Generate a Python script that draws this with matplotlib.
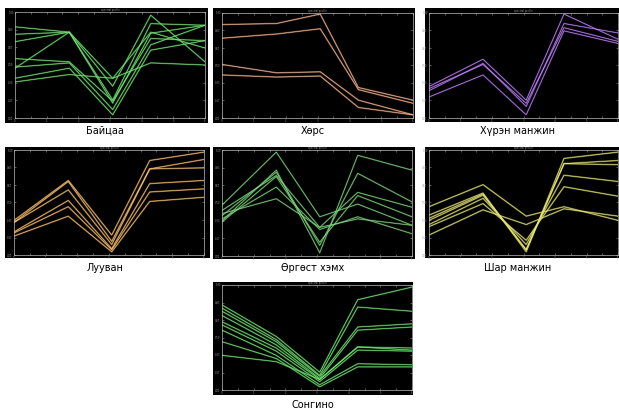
import numpy as np
import matplotlib.pyplot as plt
from matplotlib.colors import to_rgb

# band centres (nm)
bands = [450, 550, 630, 700, 800]

# spectra, as a fraction of each panel's y range
baitsaa = [
    [0.86, 0.81, 0.375, 0.81, 0.66],
    [0.79, 0.81, 0.30, 0.97, 0.53],
    [0.72, 0.81, 0.17, 0.89, 0.875],
    [0.47, 0.81, 0.14, 0.80, 0.875],
    [0.56, 0.53, 0.16, 0.75, 0.73],
    [0.48, 0.52, 0.08, 0.69, 0.875],
    [0.375, 0.47, 0.03, 0.64, 0.73],
    [0.34, 0.41, 0.375, 0.52, 0.50],
]
khors = [
    [0.89, 0.90, 0.99, 0.29, 0.17],
    [0.76, 0.80, 0.85, 0.27, 0.14],
    [0.51, 0.43, 0.44, 0.17, 0.03],
    [0.41, 0.39, 0.40, 0.10, 0.03],
]
khuren_manjin = [
    [0.30, 0.56, 0.17, 0.99, 0.75],
    [0.26, 0.52, 0.11, 0.90, 0.81],
    [0.28, 0.51, 0.14, 0.86, 0.73],
    [0.20, 0.41, 0.03, 0.83, 0.71],
]
luuvan = [
    [0.33, 0.71, 0.19, 0.90, 0.98],
    [0.31, 0.70, 0.13, 0.82, 0.91],
    [0.31, 0.62, 0.10, 0.82, 0.83],
    [0.22, 0.52, 0.06, 0.68, 0.71],
    [0.21, 0.46, 0.05, 0.60, 0.63],
    [0.18, 0.37, 0.03, 0.51, 0.55],
]
urgust_khemkh = [
    [0.48, 0.98, 0.37, 0.49, 0.29],
    [0.33, 0.81, 0.03, 0.95, 0.81],
    [0.38, 0.79, 0.10, 0.78, 0.51],
    [0.43, 0.76, 0.27, 0.60, 0.46],
    [0.32, 0.75, 0.13, 0.57, 0.37],
    [0.35, 0.65, 0.25, 0.37, 0.21],
    [0.40, 0.54, 0.27, 0.35, 0.29],
]
shar_manjin = [
    [0.46, 0.67, 0.37, 0.46, 0.33],
    [0.38, 0.59, 0.03, 0.92, 0.98],
    [0.33, 0.57, 0.05, 0.87, 0.86],
    [0.29, 0.54, 0.10, 0.76, 0.70],
    [0.27, 0.49, 0.14, 0.65, 0.56],
    [0.19, 0.43, 0.29, 0.44, 0.37],
    [0.35, 0.58, 0.05, 0.87, 0.90],
]
songino = [
    [0.81, 0.51, 0.17, 0.86, 0.98],
    [0.78, 0.48, 0.14, 0.79, 0.75],
    [0.75, 0.46, 0.13, 0.60, 0.63],
    [0.71, 0.43, 0.11, 0.57, 0.60],
    [0.65, 0.40, 0.10, 0.41, 0.40],
    [0.62, 0.37, 0.08, 0.38, 0.37],
    [0.57, 0.33, 0.05, 0.25, 0.24],
    [0.46, 0.30, 0.03, 0.22, 0.22],
    [0.33, 0.27, 0.10, 0.41, 0.38],
]

names = ['Байцаа', 'Хөрс', 'Хүрэн манжин', 'Лууван', 'Өргөст хэмх', 'Шар манжин', 'Сонгино']
spectra = [baitsaa, khors, khuren_manjin, luuvan, urgust_khemkh, shar_manjin, songino]
colors = ['#33cc33', '#e8905a', '#8a3cd8', '#f0a030', '#3fae3f', '#d8d83a', '#33cc33']

W, H = 619, 411
# (inner axes box, black backdrop, label centre) in pixels from top-left
boxes = [
    ((15, 12, 205, 118), (5, 8, 208, 123), (105, 131)),
    ((222, 13, 413, 118), (213, 8, 415, 123), (313, 131)),
    ((429, 13, 618, 118), (425, 8, 619, 122), (518, 131)),
    ((14, 150, 204, 255), (5, 147, 210, 258), (105, 268)),
    ((222, 150, 412, 256), (213, 147, 415, 259), (313, 268)),
    ((429, 150, 618, 255), (425, 147, 619, 258), (518, 268)),
    ((222, 285, 412, 390), (213, 282, 413, 395), (313, 405)),
]

fig = plt.figure(figsize=(W / 100, H / 100), dpi=100)
fig.patch.set_facecolor('white')

for name, data, col, (inner, outer, lab) in zip(names, spectra, colors, boxes):
    x0, y0, x1, y1 = outer
    bg = fig.add_axes([x0 / W, 1 - y1 / H, (x1 - x0) / W, (y1 - y0) / H], zorder=-1)
    bg.set_facecolor('black')
    bg.set_xticks([])
    bg.set_yticks([])
    for s in bg.spines.values():
        s.set_visible(False)

    x0, y0, x1, y1 = inner
    ax = fig.add_axes([x0 / W, 1 - y1 / H, (x1 - x0) / W, (y1 - y0) / H], zorder=1)
    ax.set_facecolor('black')
    core = tuple(0.4 * np.array(to_rgb(col)) + 0.6)
    for row in data:
        ax.plot(bands, row, color=col, lw=1.2, alpha=0.5)
        ax.plot(bands, row, color=core, lw=0.4, alpha=0.9)
    ax.set_xlim(bands[0], bands[-1])
    ax.set_ylim(0, 1)
    for s in ax.spines.values():
        s.set_color('#bbbbbb')
        s.set_linewidth(0.5)
    ax.set_xticks(np.linspace(bands[0], bands[-1], 13))
    ax.set_yticks(np.linspace(0, 1, 7))
    ax.tick_params(direction='in', length=1.5, width=0.4, colors='#999999',
                   labelsize=1.8, pad=1, top=True, right=True)
    ax.set_xticklabels(['' if i % 2 else f'{i // 2}' for i in range(13)])
    ax.set_yticklabels([f'{v:.2f}' for v in np.linspace(0, 1, 7)])
    ax.set_title('spectral profile', fontsize=1.8, color='#999999', pad=0.5)
    fig.text(lab[0] / W, 1 - lab[1] / H, name, ha='center', va='center',
             fontsize=7, color='black')

fig.savefig('out.png', dpi=100)
